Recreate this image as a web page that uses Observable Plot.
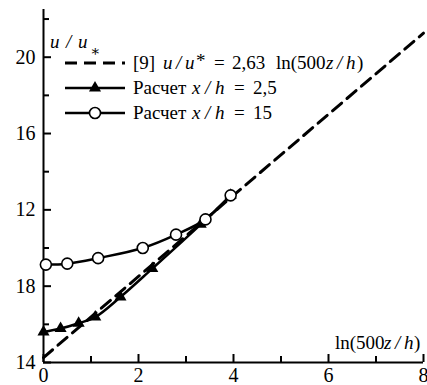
<!DOCTYPE html>
<html><head><meta charset="utf-8">
<script src="https://cdn.jsdelivr.net/npm/d3@7"></script>
<script src="https://cdn.jsdelivr.net/npm/@observablehq/plot@0.6"></script>
<style>body{margin:0;background:#fff}</style>
</head><body><div id="chart"></div>
<script>
// reference line [9]
const refX = [0, 8];
const refY = [4.26, 21.26];
// Расчет x/h = 2,5 (triangles)
const triX = [0, 0.36, 0.74, 1.09, 1.62, 2.29, 3.31, 3.94];
const triY = [5.6, 5.78, 6.06, 6.38, 7.43, 8.92, 11.24, 12.76];
// Расчет x/h = 15 (circles)
const cirX = [0.05, 0.5, 1.15, 2.09, 2.79, 3.41, 3.94];
const cirY = [9.13, 9.18, 9.47, 10.0, 10.7, 11.5, 12.76];
// ticks
const xTicks = [0, 2, 4, 6, 8];
const xMinor = [1, 3, 5, 7];
const yMajor = [4, 8, 12, 16, 20];
const yLabels = ["14", "18", "12", "16", "20"];
const yMinor = [6, 10, 14, 18, 22];

const FONT = '"Liberation Serif", "Times New Roman", "DejaVu Serif", serif';

const ref = refX.map((x, i) => ({x, y: refY[i]}));
const tri = triX.map((x, i) => ({x, y: triY[i]}));
const cir = cirX.map((x, i) => ({x, y: cirY[i]}));

const chart = Plot.plot({
  width: 427, height: 385,
  marginLeft: 43, marginRight: 4, marginTop: 9, marginBottom: 23,
  style: {fontFamily: FONT, fontSize: "19px", color: "#000", background: "#fff"},
  x: {domain: [0, 8], label: null},
  y: {domain: [4, 22.5], label: null},
  marks: [
    Plot.ruleX([0], {y1: 4, y2: 22.5, strokeWidth: 2}),
    Plot.ruleY([4], {x1: 0, x2: 8, strokeWidth: 2}),
    Plot.axisY({ticks: yMajor, tickSize: 8, dx: 8, tickFormat: () => "", label: null, strokeWidth: 2}),
    Plot.axisY({ticks: yMinor, tickSize: 6, dx: 6, tickFormat: () => "", label: null, strokeWidth: 2}),
    Plot.axisY({ticks: yMajor, tickSize: 0, tickPadding: 8, label: null, tickFormat: d => yLabels[yMajor.indexOf(d)], fontSize: 20}),
    Plot.axisX({ticks: xTicks, tickSize: 8, dy: -8, tickFormat: () => "", label: null, strokeWidth: 2}),
    Plot.axisX({ticks: xMinor, tickSize: 6, dy: -6, tickFormat: () => "", label: null, strokeWidth: 2}),
    Plot.axisX({ticks: xTicks, tickSize: 0, tickPadding: 5, label: null, fontSize: 20}),
    Plot.line(ref, {x: "x", y: "y", strokeWidth: 3, strokeDasharray: "12,7"}),
    Plot.line(tri, {x: "x", y: "y", strokeWidth: 2.5, curve: "catmull-rom"}),
    Plot.dot(tri, {x: "x", y: "y", symbol: "triangle", r: 4.5, fill: "black"}),
    Plot.line(cir, {x: "x", y: "y", strokeWidth: 2.5, curve: "catmull-rom"}),
    Plot.dot(cir, {x: "x", y: "y", r: 5.5, fill: "white", stroke: "black", strokeWidth: 1.6})
  ]
});
document.getElementById("chart").appendChild(chart);

const svg = d3.select(chart);
const g = svg.append("g").attr("font-size", 19).attr("fill", "black").attr("text-anchor", "start").style("font-family", FONT);
function piece(text, x, y, str, italic) {
  return text.append("tspan").attr("x", x).attr("y", y).attr("font-style", italic ? "italic" : null).text(str);
}
// y label
const yl = g.append("text");
piece(yl, 50, 48, "u", true);
piece(yl, 66, 48, "/", true);
piece(yl, 78, 48, "u", true);
yl.append("tspan").attr("font-size", 15).attr("x", 90).attr("y", 56).text("∗");
// x label
const xl = g.append("text");
piece(xl, 335, 349, "ln(500", false);
piece(xl, 384, 349, "z", true);
piece(xl, 395, 349, "/", true);
piece(xl, 404, 349, "h", true);
piece(xl, 414, 349, ")", false);

// legend
const rows = [63, 88, 113];
const lx1 = 65, lx2 = 125;
g.append("line").attr("x1", lx1).attr("x2", lx2).attr("y1", rows[0]).attr("y2", rows[0])
  .attr("stroke", "black").attr("stroke-width", 3).attr("stroke-dasharray", "12,7");
g.append("line").attr("x1", lx1).attr("x2", lx2).attr("y1", rows[1]).attr("y2", rows[1])
  .attr("stroke", "black").attr("stroke-width", 2.5);
g.append("path").attr("d", d3.symbol(d3.symbolTriangle, Math.PI * 4.5 * 4.5)()).attr("transform", `translate(95,${rows[1]})`);
g.append("line").attr("x1", lx1).attr("x2", lx2).attr("y1", rows[2]).attr("y2", rows[2])
  .attr("stroke", "black").attr("stroke-width", 2.5);
g.append("circle").attr("cx", 95).attr("cy", rows[2]).attr("r", 5.5).attr("fill", "white").attr("stroke", "black").attr("stroke-width", 1.6);

const b0 = rows[0] + 6, b1 = rows[1] + 6, b2 = rows[2] + 6;
const t0 = g.append("text");
piece(t0, 133, b0, "[9]", false);
piece(t0, 163, b0, "u", true);
piece(t0, 176, b0, "/", true);
piece(t0, 185, b0, "u", true);
piece(t0, 196, b0 - 2, "*", false);
piece(t0, 214, b0, "=", false);
piece(t0, 232, b0, "2,63", false);
piece(t0, 276, b0, "ln(500", false);
piece(t0, 326, b0, "z", true);
piece(t0, 337, b0, "/", true);
piece(t0, 346, b0, "h", true);
piece(t0, 357, b0, ")", false);
const t1 = g.append("text");
piece(t1, 133, b1, "Расчет", false);
piece(t1, 192, b1, "x", true);
piece(t1, 205, b1, "/", true);
piece(t1, 215, b1, "h", true);
piece(t1, 234, b1, "=", false);
piece(t1, 253, b1, "2,5", false);
const t2 = g.append("text");
piece(t2, 133, b2, "Расчет", false);
piece(t2, 192, b2, "x", true);
piece(t2, 205, b2, "/", true);
piece(t2, 215, b2, "h", true);
piece(t2, 234, b2, "=", false);
piece(t2, 253, b2, "15", false);
</script></body></html>
